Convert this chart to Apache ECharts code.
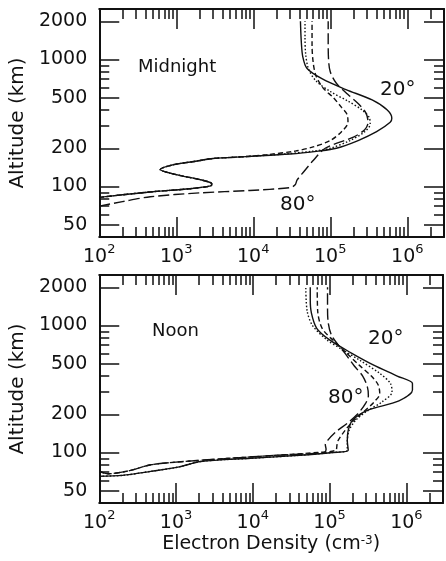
<!DOCTYPE html>
<html>
<head>
<meta charset="utf-8">
<script src="https://cdn.jsdelivr.net/npm/echarts@6/dist/echarts.min.js"></script>
<style>
html, body { margin: 0; padding: 0; background: #fff; }
#chart { width: 446px; height: 561px; }
</style>
</head>
<body>
<div id="chart"></div>
<script>
// tick values: x = powers of ten, y = altitude in km
var decades = [2, 3, 4, 5, 6];
var altMajor = [50, 100, 200, 500, 1000, 2000];
var altMinor = [60, 70, 80, 90, 300, 400, 600, 700, 800, 900];

// Midnight profiles (altitude km, electron density cm^-3)
var m20Alt = [82, 86, 91, 96, 101, 105, 112, 124, 136, 148, 158, 166, 172, 180, 190, 200, 230, 270, 320, 345, 400, 480, 580, 700, 850, 1050, 1400, 2000];
var m20Ne  = [100, 200, 500, 1500, 2800, 2900, 2200, 1000, 620, 900, 1800, 3000, 8000, 3e4, 7e4, 1.2e5, 2.3e5, 4e5, 6e5, 6.3e5, 5.5e5, 3.5e5, 1.6e5, 8e4, 5e4, 4.4e4, 4.2e4, 4.1e4];
var m40Alt = [82, 86, 91, 96, 101, 105, 112, 124, 136, 148, 158, 166, 172, 180, 190, 200, 230, 270, 310, 350, 400, 470, 560, 680, 850, 1100, 1500, 2000];
var m40Ne  = [100, 200, 500, 1500, 2800, 2900, 2200, 1000, 620, 900, 1800, 3000, 8000, 2.5e4, 6e4, 1e5, 1.8e5, 2.8e5, 3.3e5, 3.2e5, 2.6e5, 1.7e5, 1e5, 6.5e4, 5.2e4, 4.8e4, 4.7e4, 4.7e4];
var m60Alt = [82, 86, 91, 96, 101, 105, 112, 124, 136, 148, 158, 166, 172, 178, 190, 205, 230, 270, 320, 370, 420, 500, 600, 750, 950, 1300, 2000];
var m60Ne  = [100, 200, 500, 1500, 2800, 2900, 2200, 1000, 620, 900, 1800, 3000, 8000, 1.5e4, 3.5e4, 6e4, 1e5, 1.4e5, 1.7e5, 1.65e5, 1.4e5, 1.1e5, 8e4, 6.5e4, 6e4, 5.8e4, 5.8e4];
var m80Alt = [70, 76, 83, 89, 93, 98, 103, 112, 130, 160, 200, 245, 280, 320, 380, 450, 530, 650, 800, 1000, 1400, 2000];
var m80Ne  = [100, 200, 460, 2000, 9000, 3e4, 3.5e4, 3.7e4, 4.5e4, 6e4, 8.6e4, 2e5, 2.8e5, 3.1e5, 2.9e5, 2.3e5, 1.7e5, 1.2e5, 1e5, 9.5e4, 9.4e4, 9.4e4];

// Noon profiles
var n20Alt = [65, 66, 71, 77, 85, 90, 95, 100, 104, 125, 150, 180, 215, 255, 310, 350, 400, 490, 610, 770, 950, 1250, 1600, 2000];
var n20Ne  = [100, 200, 470, 1100, 2100, 9400, 4e4, 1.1e5, 1.75e5, 1.7e5, 1.75e5, 2e5, 3.1e5, 8e5, 1.2e6, 1.2e6, 7.6e5, 3.7e5, 1.9e5, 1e5, 6.8e4, 5.8e4, 5.6e4, 5.6e4];
var n40Alt = [65, 66, 71, 77, 85, 90, 95, 100, 104, 120, 150, 180, 210, 250, 300, 350, 420, 530, 640, 780, 1000, 1300, 2000];
var n40Ne  = [100, 200, 470, 1100, 2100, 9400, 4e4, 1.1e5, 1.7e5, 1.7e5, 1.8e5, 2.2e5, 3e5, 4.8e5, 6.5e5, 6.2e5, 4.5e5, 2.5e5, 1.5e5, 9e4, 6e4, 5.1e4, 4.9e4];
var n60Alt = [71, 68, 72, 80, 85, 90, 95, 100, 104, 115, 125, 150, 175, 210, 250, 290, 340, 400, 490, 620, 750, 950, 1300, 2000];
var n60Ne  = [100, 130, 250, 470, 1300, 5000, 2e4, 7e4, 1.2e5, 1.25e5, 1.3e5, 1.6e5, 2e5, 2.8e5, 3.8e5, 4.5e5, 4.3e5, 3.5e5, 2.4e5, 1.6e5, 1.15e5, 8e4, 7e4, 6.9e4];
var n80Alt = [71, 68, 72, 80, 85, 90, 95, 100, 106, 115, 125, 145, 170, 200, 240, 280, 330, 400, 480, 600, 700, 850, 1050, 1400, 2000];
var n80Ne  = [100, 130, 250, 470, 1300, 5000, 2e4, 8.5e4, 9e4, 8.8e4, 9.5e4, 1.2e5, 1.7e5, 2.3e5, 2.9e5, 3.2e5, 3.1e5, 2.7e5, 2.1e5, 1.6e5, 1.3e5, 1.05e5, 9.6e4, 9.4e4, 9.4e4];

var xMin = 100, xMax = 3e6, yMin = 40, yMax = 2500;
var font = 'DejaVu Sans';
var ink = '#111';
var lg = Math.log10;

function pairs(ne, alt) {
    return ne.map(function (v, i) { return [v, alt[i]]; });
}

var xMinor = [];
decades.forEach(function (d) {
    for (var k = 2; k <= 9; k++) {
        var v = d + lg(k);
        if (v < lg(xMax)) xMinor.push(v);
    }
});

function axisBase(g, lo, hi) {
    return {
        gridIndex: g, type: 'value', min: lo, max: hi,
        splitLine: { show: false },
        axisLabel: { show: false },
        axisLine: { show: false, onZero: false }
    };
}

function tickStyle(vals, len) {
    return { show: true, inside: true, length: len, customValues: vals, lineStyle: { color: ink, width: 1.5 } };
}

function xAxesFor(g, withName) {
    var lo = 2, hi = lg(xMax);
    var major = axisBase(g, lo, hi);
    major.position = 'bottom';
    major.axisLine = { show: true, onZero: false, lineStyle: { color: ink, width: 2 } };
    major.axisTick = tickStyle(decades, 20);
    major.axisLabel = {
        show: true, customValues: decades, margin: 6,
        formatter: function (v) { return '{b|10}{s|' + Math.round(v) + '}'; },
        rich: {
            b: { fontFamily: font, fontSize: 19, color: ink, padding: [5, 0, 0, 0], verticalAlign: 'bottom' },
            s: { fontFamily: font, fontSize: 13, color: ink, verticalAlign: 'top' }
        }
    };
    if (withName) {
        major.name = 'Electron Density (cm{s|-3})';
        major.nameLocation = 'middle';
        major.nameGap = 32;
        major.nameTextStyle = {
            fontFamily: font, fontSize: 19, color: ink,
            rich: { s: { fontFamily: font, fontSize: 12, color: ink, verticalAlign: 'top' } }
        };
    }
    var minor = axisBase(g, lo, hi);
    minor.position = 'bottom';
    minor.axisTick = tickStyle(xMinor, 10);
    var topMajor = axisBase(g, lo, hi);
    topMajor.position = 'top';
    topMajor.axisLine = { show: true, onZero: false, lineStyle: { color: ink, width: 2 } };
    topMajor.axisTick = tickStyle(decades, 20);
    var topMinor = axisBase(g, lo, hi);
    topMinor.position = 'top';
    topMinor.axisTick = tickStyle(xMinor, 10);
    return [
        { gridIndex: g, type: 'log', min: xMin, max: xMax, show: false },
        major, minor, topMajor, topMinor
    ];
}

function yAxesFor(g) {
    var lo = lg(yMin), hi = lg(yMax);
    var majVals = altMajor.map(lg), minVals = altMinor.map(lg);
    var major = axisBase(g, lo, hi);
    major.position = 'left';
    major.axisLine = { show: true, onZero: false, lineStyle: { color: ink, width: 2 } };
    major.axisTick = tickStyle(majVals, 20);
    major.axisLabel = {
        show: true, customValues: majVals, margin: 12,
        fontFamily: font, fontSize: 19, color: ink,
        formatter: function (v) { return Math.round(Math.pow(10, v)); }
    };
    major.name = 'Altitude (km)';
    major.nameLocation = 'middle';
    major.nameGap = 64;
    major.nameTextStyle = { fontFamily: font, fontSize: 20, color: ink };
    var minor = axisBase(g, lo, hi);
    minor.position = 'left';
    minor.axisTick = tickStyle(minVals, 10);
    var rMajor = axisBase(g, lo, hi);
    rMajor.position = 'right';
    rMajor.axisLine = { show: true, onZero: false, lineStyle: { color: ink, width: 2 } };
    rMajor.axisTick = tickStyle(majVals, 20);
    var rMinor = axisBase(g, lo, hi);
    rMinor.position = 'right';
    rMinor.axisTick = tickStyle(minVals, 10);
    return [
        { gridIndex: g, type: 'log', min: yMin, max: yMax, show: false },
        major, minor, rMajor, rMinor
    ];
}

var dashStyles = {
    solid: 'solid',
    dotted: [1.5, 2],
    dashed: [5, 3],
    longdash: [11, 4]
};

function profile(name, g, ne, alt, style) {
    return {
        name: name, type: 'line', xAxisIndex: g * 5, yAxisIndex: g * 5,
        data: pairs(ne, alt), showSymbol: false, smooth: 0.3, clip: true,
        lineStyle: { color: ink, width: 1.4, type: dashStyles[style] }
    };
}

function note(text, x, y, size) {
    return { type: 'text', left: x, top: y, style: { text: text, font: size + 'px "' + font + '"', fill: ink } };
}

var option = {
    backgroundColor: '#fff',
    animation: false,
    grid: [
        { left: 98, right: 2, top: 9, height: 228 },
        { left: 97, right: 3, top: 275, height: 228 }
    ],
    xAxis: xAxesFor(0, false).concat(xAxesFor(1, true)),
    yAxis: yAxesFor(0).concat(yAxesFor(1)),
    series: [
        profile('Midnight 20', 0, m20Ne, m20Alt, 'solid'),
        profile('Midnight 40', 0, m40Ne, m40Alt, 'dotted'),
        profile('Midnight 60', 0, m60Ne, m60Alt, 'dashed'),
        profile('Midnight 80', 0, m80Ne, m80Alt, 'longdash'),
        profile('Noon 20', 1, n20Ne, n20Alt, 'solid'),
        profile('Noon 40', 1, n40Ne, n40Alt, 'dotted'),
        profile('Noon 60', 1, n60Ne, n60Alt, 'dashed'),
        profile('Noon 80', 1, n80Ne, n80Alt, 'longdash')
    ],
    graphic: [
        note('Midnight', 138, 58, 18),
        note('20°', 380, 80, 20),
        note('80°', 280, 195, 20),
        note('Noon', 152, 322, 18),
        note('20°', 368, 329, 20),
        note('80°', 328, 388, 20)
    ]
};

var myChart = echarts.init(document.getElementById('chart'));
myChart.setOption(option);
window.addEventListener('resize', function () { myChart.resize(); });
</script>
</body>
</html>
